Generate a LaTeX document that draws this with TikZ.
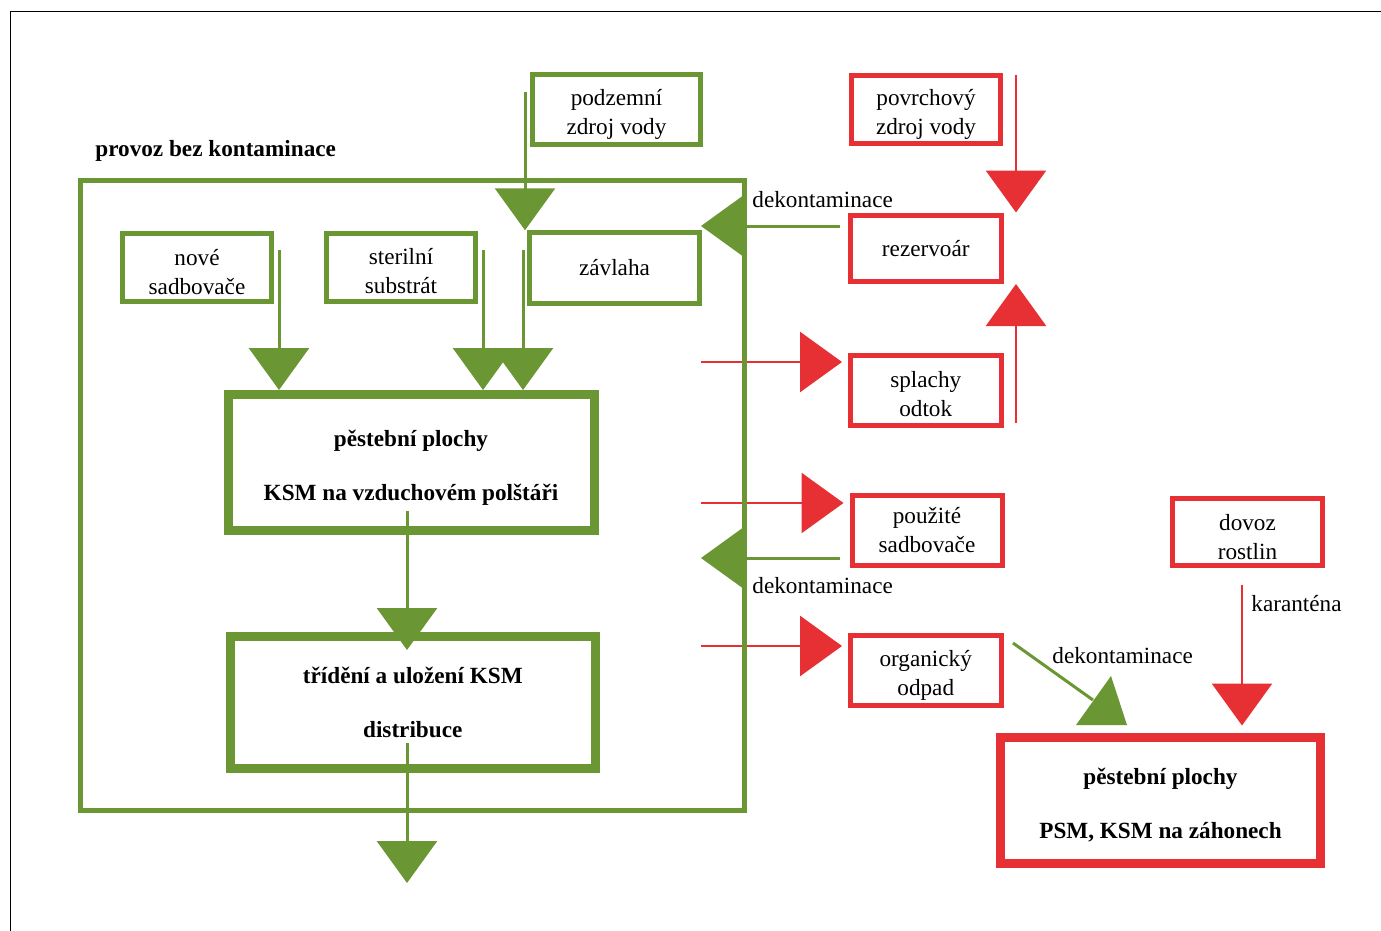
\documentclass[tikz,border=0pt]{standalone}
\usepackage{fontspec}
\setmainfont{Liberation Serif}
\usetikzlibrary{arrows.meta}
\definecolor{kgreen}{RGB}{106,151,51}
\definecolor{kred}{RGB}{231,48,52}
\newcommand{\lnup}[1][13]{\rule{0pt}{#1pt}}
\tikzset{
  gbox/.style={draw=kgreen, line width=2.5pt, fill=white, align=center, inner sep=0pt},
  rbox/.style={draw=kred, line width=2.5pt, fill=white, align=center, inner sep=0pt},
  bigbox/.style={line width=4.5pt, font=\fontsize{11.6}{14.5}\selectfont\bfseries},
  garrow/.style={draw=kgreen, line width=1.5pt, -{Triangle[length=21pt,width=30pt]}},
  rarrow/.style={draw=kred, line width=1.4pt, -{Triangle[length=21pt,width=30pt]}},
  lbl/.style={anchor=base west, inner sep=0pt},
}
\begin{document}
\begin{tikzpicture}[x=0.5pt, y=-0.5pt, font=\fontsize{11.6}{14.5}\selectfont]
\useasboundingbox (0,0) rectangle (1381,931);
% page frame
\draw[line width=0.5pt] (10,931) -- (10,12) -- (1381,12);

% Contaminated sources (red)
\node[rbox, minimum width=74.5pt, minimum height=34pt] (povrch) at (926,109.5) {\lnup povrchový\\zdroj vody};
\node[rbox, minimum width=75.25pt, minimum height=33.25pt] (rez) at (925.75,248.25) {rezervoár};
\node[rbox, minimum width=75.25pt, minimum height=35pt] (spl) at (925.75,390.5) {\lnup[12]splachy\\odtok};
\node[rbox, minimum width=75pt, minimum height=35pt] (pouz) at (927,530.5) {použité\\sadbovače};
\node[rbox, minimum width=75.25pt, minimum height=35pt] (org) at (925.75,670.5) {\lnup[12.5]organický\\odpad};
\node[rbox, minimum width=75pt, minimum height=33.5pt] (dovoz) at (1247.5,532) {\lnup[13.5]dovoz\\rostlin};
\node[rbox, bigbox, minimum width=160pt, minimum height=63.25pt] (psm) at (1160.5,800.25) {\lnup pěstební plochy\\[12.5pt]PSM, KSM na záhonech};

% Outputs to contamination
\coordinate (o1) at (701,362);
\coordinate (o2) at (701,503);
\coordinate (o3) at (701,646);
\draw[rarrow, shorten >=3pt] (o1) -- (o1 -| spl.west);
\draw[rarrow, shorten >=3pt] (o2) -- (o2 -| pouz.west);
\draw[rarrow, shorten >=3pt] (o3) -- (o3 -| org.west);

% Water into reservoir
\coordinate (w1) at (1016,75);
\coordinate (w2) at (1016,423);
\draw[rarrow] (w1) -- (w1 |- rez.north);
\draw[rarrow] (w2) -- (w2 |- rez.south);

% Import with quarantine
\coordinate (k1) at (1242,585);
\draw[rarrow, shorten >=3.5pt] (k1) -- (k1 |- psm.north);
\node[lbl] (kar) at (1251,611) {karanténa};

% Operation without contamination
\node[draw=kgreen, line width=2.5pt, minimum width=332pt, minimum height=315pt] (frame) at (412.5,495.5) {};
\node[lbl, font=\fontsize{11.6}{14.5}\selectfont\bfseries] (title) at (95,156) {provoz bez kontaminace};

\node[gbox, minimum width=84pt, minimum height=35pt] (podz) at (616.5,109.5) {\lnup podzemní\\zdroj vody};
\node[gbox, minimum width=74.5pt, minimum height=34pt] (nove) at (197,267.5) {\lnup[12.5]nové\\sadbovače};
\node[gbox, minimum width=74.5pt, minimum height=34pt] (steril) at (401,267.5) {\lnup[12]sterilní\\substrát};
\node[gbox, minimum width=85pt, minimum height=35.25pt] (zavl) at (614.5,268) {závlaha};
\node[gbox, bigbox, minimum width=183pt, minimum height=68pt] (pest) at (411,462.5) {\lnup pěstební plochy\\[12.5pt]KSM na vzduchovém polštáři};
\node[gbox, bigbox, minimum width=182.75pt, minimum height=66pt] (trid) at (412.75,702) {třídění a uložení KSM\\[12.5pt]distribuce};

% Inputs (green)
\coordinate (i1) at (525,92);
\coordinate (i2) at (279,250);
\coordinate (i3) at (483,250);
\coordinate (i4) at (523,250);
\draw[garrow] (i1) -- (i1 |- zavl.north);
\draw[garrow] (i2) -- (i2 |- pest.north);
\draw[garrow] (i3) -- (i3 |- pest.north);
\draw[garrow] (i4) -- (i4 |- pest.north);

% Flow through the operation
\coordinate (p1) at (407,511);
\coordinate (p2) at (407,650);
\coordinate (p3) at (407,743);
\coordinate (out) at (407,883);
\draw[garrow] (p1) -- (p2);
\draw[garrow] (p3) -- (out);

% Decontamination back in
\coordinate (d1) at (701,226);
\coordinate (d2) at (701,558);
\draw[garrow, shorten <=4pt] (d1 -| rez.west) -- (d1);
\draw[garrow, shorten <=5pt] (d2 -| pouz.west) -- (d2);
\node[lbl] (dek1) at (752,207) {dekontaminace};
\node[lbl] (dek2) at (752,593) {dekontaminace};

% Organic waste to beds
\coordinate (g1) at (1013,643);
\coordinate (g2) at (1093,700);
\draw[draw=kgreen, line width=1.5pt] (g1) -- (g2);
\fill[kgreen] (1111,676) -- (1127,725) -- (1076,725) -- cycle;
\node[lbl] (dek3) at (1052,663) {dekontaminace};
\end{tikzpicture}
\end{document}
